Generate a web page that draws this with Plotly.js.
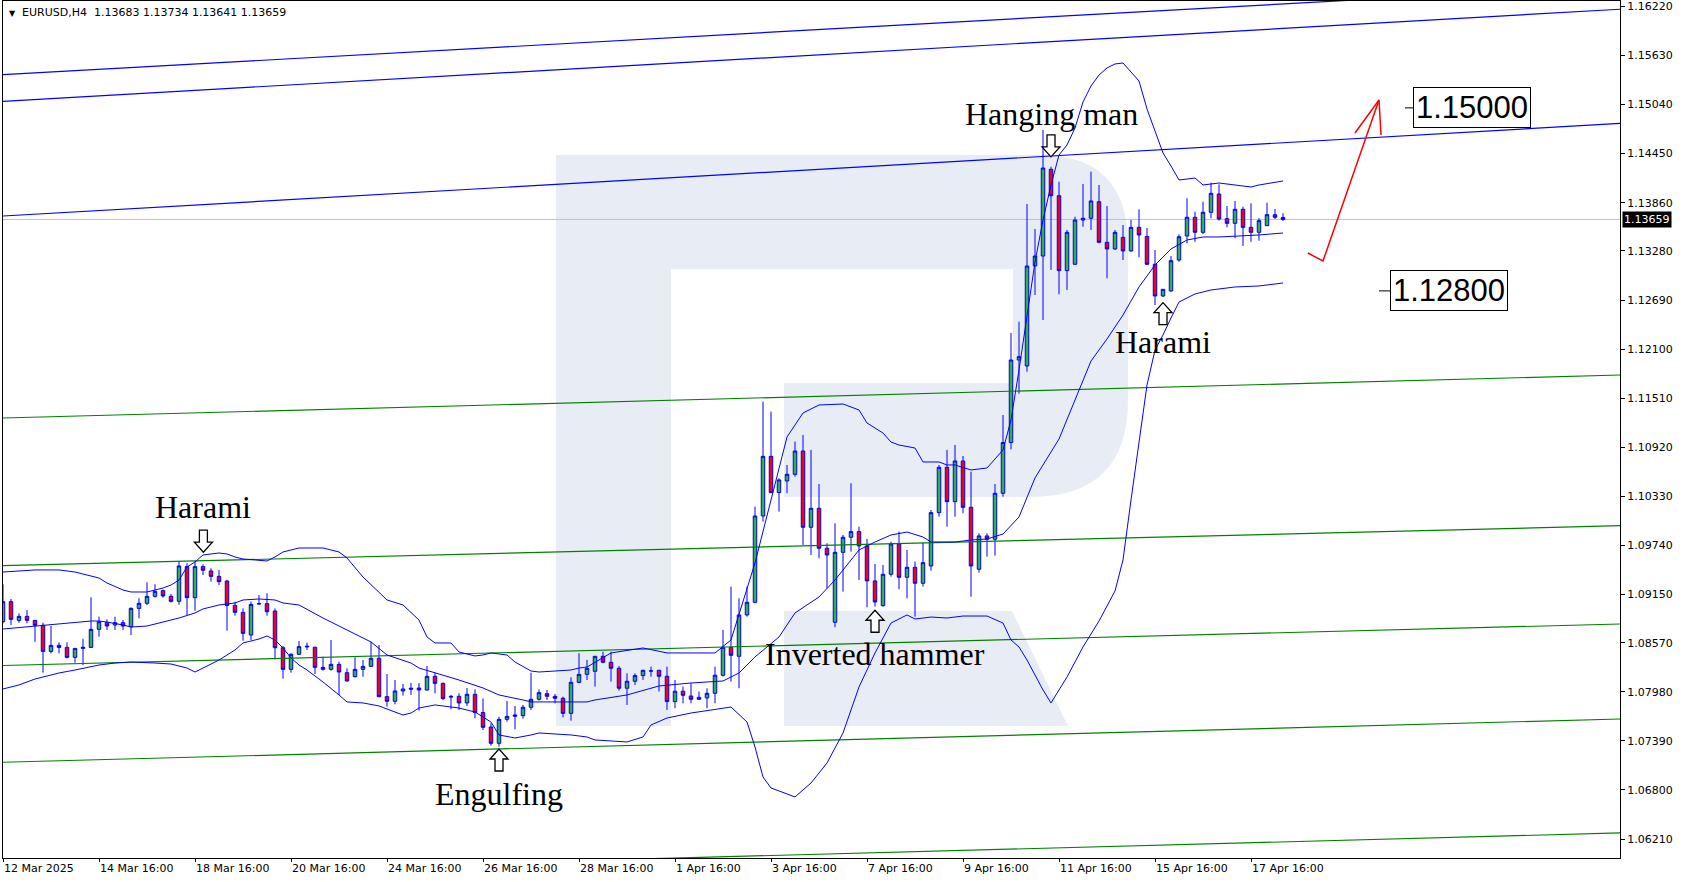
<!DOCTYPE html>
<html><head><meta charset="utf-8">
<script src="https://cdn.plot.ly/plotly-3.0.1.min.js"></script>
<style>html,body{margin:0;padding:0;background:#fff;}#chart{width:1684px;height:882px;}</style>
</head><body><div id="chart"></div>
<script>
// ---- OHLC data, EURUSD H4 (bar 0 = 12 Mar 16:00 ... bar 160 = 18 Apr 08:00)
const openP = [
1.08823,1.09064,1.08839,1.08887,1.08839,1.08779,1.08466,1.08538,1.08514,1.08394,
1.08502,1.08514,1.08731,1.08811,1.08783,1.08811,1.08763,1.08983,1.09044,1.09128,
1.09196,1.09128,1.09068,1.09485,1.09112,1.09485,1.09433,1.09368,1.09312,1.09019,
1.08935,1.08663,1.09035,1.09040,1.08951,1.08510,1.08250,1.08431,1.08519,1.08515,
1.08274,1.08250,1.08310,1.08210,1.08162,1.08250,1.08286,1.08383,1.07922,1.07866,
1.07990,1.08010,1.08026,1.08002,1.08166,1.08082,1.07926,1.07926,1.07846,1.07950,
1.07730,1.07557,1.07361,1.07649,1.07685,1.07693,1.07794,1.07890,1.07958,1.07926,
1.07902,1.07721,1.08094,1.08190,1.08227,1.08407,1.08335,1.08263,1.08023,1.08107,
1.08175,1.08231,1.08239,1.08167,1.07862,1.07987,1.07930,1.07890,1.07906,1.07962,
1.08179,1.08515,1.08407,1.08904,1.09056,1.10094,1.10811,1.10375,1.10515,1.10595,
1.10875,1.09958,1.10186,1.09706,1.08816,1.09657,1.09838,1.09906,1.09734,1.09313,
1.09016,1.09393,1.09758,1.09357,1.09477,1.09285,1.09493,1.10134,1.10679,1.10266,
1.10755,1.10198,1.09453,1.09854,1.09814,1.10367,1.10976,1.11969,1.11897,1.13099,
1.13219,1.14262,1.13944,1.13043,1.13120,1.13652,1.13673,1.13872,1.13384,1.13304,
1.13444,1.13280,1.13564,1.13454,1.13120,1.12739,1.12799,1.13171,1.13460,1.13685,
1.13504,1.13745,1.13965,1.13668,1.13612,1.13781,1.13564,1.13504,1.13584,1.13716,
1.13683];
const highP = [
1.09272,1.09096,1.08923,1.08963,1.08843,1.08811,1.08771,1.08574,1.08574,1.08502,
1.08618,1.09116,1.08883,1.08851,1.08883,1.08843,1.08995,1.09104,1.09296,1.09272,
1.09208,1.09156,1.09545,1.09525,1.09545,1.09513,1.09465,1.09445,1.09324,1.09064,
1.08983,1.09064,1.09144,1.09164,1.08983,1.08530,1.08443,1.08591,1.08571,1.08523,
1.08403,1.08603,1.08342,1.08262,1.08395,1.08363,1.08583,1.08543,1.08194,1.08122,
1.08074,1.08086,1.08086,1.08290,1.08210,1.08090,1.07942,1.07962,1.08026,1.08010,
1.07900,1.07601,1.07681,1.07870,1.07810,1.07822,1.08210,1.08010,1.08002,1.07954,
1.07922,1.08154,1.08443,1.08363,1.08407,1.08463,1.08463,1.08291,1.08203,1.08203,
1.08243,1.08283,1.08243,1.08283,1.08123,1.08043,1.08083,1.07983,1.08023,1.08283,
1.08724,1.09245,1.09104,1.09245,1.10206,1.11469,1.11348,1.10547,1.10707,1.10988,
1.11068,1.10888,1.10479,1.09766,1.10006,1.09866,1.10487,1.09966,1.09818,1.09517,
1.09505,1.09786,1.09906,1.09685,1.09545,1.09774,1.10166,1.10707,1.10888,1.10948,
1.10815,1.10627,1.09886,1.09886,1.10479,1.11308,1.12294,1.12430,1.13845,1.13544,
1.14734,1.14293,1.14113,1.13532,1.13692,1.14085,1.14233,1.14073,1.13820,1.13532,
1.13592,1.13652,1.13781,1.13556,1.13292,1.12819,1.13219,1.13480,1.13913,1.13752,
1.13872,1.14101,1.14081,1.13820,1.13881,1.13812,1.13853,1.13673,1.13860,1.13784,
1.13734];
const lowP = [
1.08803,1.08783,1.08811,1.08803,1.08582,1.08210,1.08442,1.08442,1.08382,1.08330,
1.08302,1.08506,1.08643,1.08723,1.08723,1.08723,1.08663,1.08863,1.09023,1.09112,
1.09112,1.09052,1.09027,1.08903,1.08955,1.09385,1.09304,1.09264,1.08715,1.08895,
1.08594,1.08602,1.09031,1.08895,1.08370,1.08138,1.08210,1.08423,1.08483,1.08194,
1.08234,1.08234,1.07942,1.08102,1.08154,1.08162,1.08282,1.07914,1.07802,1.07830,
1.07934,1.07942,1.07754,1.07994,1.07962,1.07882,1.07770,1.07762,1.07810,1.07661,
1.07521,1.07333,1.07321,1.07621,1.07529,1.07657,1.07762,1.07874,1.07882,1.07842,
1.07673,1.07633,1.08082,1.08122,1.08043,1.08323,1.08103,1.07995,1.07822,1.08063,
1.08123,1.08163,1.07983,1.07762,1.07782,1.07842,1.07842,1.07882,1.07782,1.07842,
1.08163,1.08103,1.08023,1.08884,1.09044,1.10026,1.10367,1.10146,1.10367,1.10567,
1.09746,1.09625,1.09585,1.09225,1.08756,1.09185,1.09665,1.09325,1.08996,1.09004,
1.09004,1.09365,1.09213,1.09104,1.08884,1.09245,1.09437,1.10086,1.09966,1.10086,
1.10126,1.09124,1.09413,1.09605,1.09617,1.10326,1.10895,1.11564,1.11828,1.12751,
1.12450,1.13051,1.12759,1.12811,1.13111,1.13572,1.13532,1.13372,1.12951,1.13292,
1.13171,1.13271,1.13204,1.13111,1.12630,1.12726,1.12790,1.13151,1.13372,1.13391,
1.13484,1.13673,1.13644,1.13564,1.13432,1.13340,1.13391,1.13403,1.13580,1.13664,
1.13641];
const closeP = [
1.09064,1.08851,1.08887,1.08839,1.08779,1.08466,1.08538,1.08514,1.08394,1.08502,
1.08514,1.08731,1.08823,1.08771,1.08811,1.08771,1.08983,1.09044,1.09128,1.09188,
1.09132,1.09068,1.09493,1.09112,1.09485,1.09441,1.09368,1.09304,1.09019,1.08935,
1.08683,1.09031,1.09040,1.08943,1.08510,1.08250,1.08431,1.08523,1.08527,1.08274,
1.08250,1.08310,1.08218,1.08110,1.08250,1.08286,1.08383,1.07922,1.07866,1.07990,
1.08014,1.08022,1.08002,1.08166,1.08082,1.07898,1.07918,1.07846,1.07950,1.07730,
1.07553,1.07361,1.07649,1.07685,1.07701,1.07794,1.07890,1.07970,1.07926,1.07902,
1.07721,1.08094,1.08190,1.08262,1.08407,1.08335,1.08263,1.08023,1.08107,1.08175,
1.08239,1.08231,1.08167,1.07862,1.07987,1.07938,1.07890,1.07914,1.07962,1.08179,
1.08515,1.08419,1.08904,1.09056,1.10094,1.10811,1.10375,1.10527,1.10595,1.10875,
1.09958,1.10186,1.09706,1.09625,1.09657,1.09838,1.09906,1.09734,1.09313,1.09060,
1.09393,1.09758,1.09357,1.09477,1.09285,1.09533,1.10134,1.10679,1.10266,1.10755,
1.10198,1.09493,1.09854,1.09814,1.10367,1.10976,1.11969,1.12009,1.13099,1.13219,
1.14277,1.13944,1.13043,1.13504,1.13652,1.13673,1.13881,1.13384,1.13304,1.13504,
1.13280,1.13564,1.13472,1.13120,1.12739,1.12819,1.13163,1.13451,1.13685,1.13504,
1.13745,1.13973,1.13664,1.13612,1.13781,1.13564,1.13504,1.13644,1.13716,1.13685,
1.13659];
const barIdx = openP.map((_, i) => i);

// ---- Bollinger bands at bar positions
const upperIdx = [0,4,7,9,12,13,15,16,18,20,21,22,23,24,25,27,28,29,30,33,34,35,37,40,42,43,45,47,48,50,52,53,54,56,57,59,60,61,63,64,66,67,69,71,72,73,76,80,83,86,89,91,94,98,100,102,105,107,108,110,111,112,114,115,117,118,119,121,123,125,126,127,128,129,130,131,132,133,134,135,136,137,138,139,140,142,143,144,145,146,147,149,150,152,156,157,160];
const upperVal = [1.09420,1.09445,1.09445,1.09420,1.09348,1.09288,1.09204,1.09180,1.09180,1.09228,1.09264,1.09324,1.09481,1.09541,1.09625,1.09649,1.09637,1.09601,1.09577,1.09553,1.09601,1.09661,1.09709,1.09709,1.09661,1.09589,1.09360,1.09168,1.09084,1.09024,1.08843,1.08639,1.08567,1.08567,1.08459,1.08411,1.08423,1.08447,1.08423,1.08338,1.08230,1.08218,1.08230,1.08242,1.08266,1.08278,1.08447,1.08507,1.08447,1.08447,1.08447,1.08603,1.09529,1.11043,1.11332,1.11428,1.11440,1.11368,1.11212,1.11091,1.10983,1.10947,1.10911,1.10743,1.10743,1.10707,1.10707,1.10647,1.10671,1.10887,1.11248,1.11849,1.12510,1.13147,1.13652,1.14073,1.14434,1.14554,1.14758,1.15071,1.15263,1.15395,1.15480,1.15528,1.15540,1.15323,1.14987,1.14722,1.14458,1.14301,1.14133,1.14157,1.14073,1.14097,1.14049,1.14073,1.14121];
const midIdx = [0,4,8,11,12,13,15,16,18,20,22,24,25,27,29,30,32,34,35,37,40,43,46,48,51,52,55,57,60,62,65,66,69,73,74,78,82,86,90,92,94,97,99,102,104,106,107,109,111,113,115,116,118,119,121,123,125,127,129,132,134,136,138,140,142,144,145,146,148,150,152,157,160];
const midVal = [1.08735,1.08771,1.08807,1.08831,1.08831,1.08819,1.08783,1.08759,1.08771,1.08819,1.08867,1.08928,1.08976,1.09024,1.09048,1.09084,1.09096,1.09084,1.09048,1.09024,1.08867,1.08723,1.08579,1.08423,1.08326,1.08266,1.08182,1.08122,1.08026,1.07942,1.07882,1.07858,1.07858,1.07858,1.07882,1.07942,1.08050,1.08086,1.08110,1.08206,1.08399,1.08639,1.08928,1.09120,1.09324,1.09565,1.09685,1.09781,1.09865,1.09901,1.09841,1.09781,1.09781,1.09781,1.09805,1.09817,1.09877,1.10082,1.10551,1.11019,1.11488,1.11957,1.12222,1.12510,1.12847,1.13111,1.13207,1.13304,1.13412,1.13448,1.13448,1.13472,1.13496];
const lowerIdx = [0,2,4,5,7,9,11,12,14,16,19,21,23,24,25,27,29,30,32,33,34,35,36,37,38,40,42,43,45,47,48,50,51,52,54,55,57,59,61,62,64,66,67,69,71,73,74,78,80,81,83,86,90,91,93,94,95,96,99,101,103,105,107,109,111,113,114,116,118,120,123,125,126,127,128,130,131,133,135,137,139,140,141,142,143,144,145,146,147,149,151,154,157,160];
const lowerVal = [1.08014,1.08062,1.08134,1.08158,1.08206,1.08242,1.08278,1.08302,1.08326,1.08338,1.08326,1.08314,1.08266,1.08218,1.08266,1.08362,1.08483,1.08567,1.08615,1.08651,1.08603,1.08507,1.08387,1.08302,1.08242,1.08098,1.07942,1.07858,1.07846,1.07810,1.07773,1.07701,1.07725,1.07785,1.07822,1.07810,1.07785,1.07737,1.07617,1.07461,1.07425,1.07461,1.07485,1.07473,1.07461,1.07437,1.07401,1.07377,1.07437,1.07581,1.07665,1.07725,1.07785,1.07797,1.07617,1.07317,1.06956,1.06824,1.06716,1.06884,1.07124,1.07485,1.08038,1.08447,1.08807,1.08904,1.08855,1.08879,1.08867,1.08891,1.08891,1.08807,1.08603,1.08519,1.08362,1.08002,1.07846,1.08158,1.08519,1.08831,1.09192,1.09565,1.10286,1.11007,1.11669,1.12089,1.12270,1.12474,1.12666,1.12763,1.12811,1.12847,1.12859,1.12895];

// ---- drawn lines (price at left edge / right edge of the window)
const lineSpan = [0, 202.125];
const blueLineStart = [1.15400, 1.15079, 1.13700];
const blueLineEnd   = [1.16473, 1.16186, 1.14813];
const greenLineStart = [1.11272, 1.09496, 1.08296, 1.07133, 1.05767];
const greenLineEnd   = [1.11789, 1.09977, 1.08795, 1.07653, 1.06283];
const redArrowIdx = [163.1, 165, 172];
const redArrowVal = [1.13255, 1.13159, 1.15095];
const redHeadIdx = [169, 172, 172.25];
const redHeadVal = [1.14698, 1.15095, 1.14674];
const targetLevels = [1.15000, 1.12800];
const targetLabels = ['1.15000', '1.12800'];

// ---- pattern marks: name, bar, text price, arrow price, arrow direction
const patternNames = ['Harami', 'Engulfing', 'Inverted hammer', 'Hanging man', 'Harami'];
const patternBar = [25.05, 62.0, 109.0, 131.0, 145.0];
const patternTextPrice = [1.10199, 1.06749, 1.08432, 1.14929, 1.12183];
const patternArrowPrice = [1.09791, 1.07160, 1.08828, 1.14544, 1.12526];
const patternArrowDir = ['down', 'up', 'up', 'down', 'up'];

// ---- axis labels
const xTickIdx = [0,12,24,36,48,60,72,84,96,108,120,132,144,156];
const xTickLabels = ['12 Mar 2025','14 Mar 16:00','18 Mar 16:00','20 Mar 16:00','24 Mar 16:00','26 Mar 16:00','28 Mar 16:00','1 Apr 16:00','3 Apr 16:00','7 Apr 16:00','9 Apr 16:00','11 Apr 16:00','15 Apr 16:00','17 Apr 16:00'];
const yTickLabels = ['1.16220','1.15630','1.15040','1.14450','1.13860','1.13280','1.12690','1.12100','1.11510','1.10920','1.10330','1.09740','1.09150','1.08570','1.07980','1.07390','1.06800','1.06210'];
const yTickVals = yTickLabels.map(Number);
const lastClose = closeP[closeP.length - 1];
const headerText = 'EURUSD,H4  ' + [openP.at(-1), highP.at(-1), lowP.at(-1), closeP.at(-1)].map(v => v.toFixed(5)).join(' ');

// ---- helpers for pixel placed decorations
const PX = x => (x - 3) / 1617;
const PY = y => (858 - y) / 857;
const P = (x, y) => PX(x) + ',' + PY(y);

const traces = [];
greenLineStart.forEach((s, i) => traces.push({type:'scatter', mode:'lines', x:lineSpan, y:[s, greenLineEnd[i]], line:{color:'#008000', width:1.2}, hoverinfo:'skip'}));
blueLineStart.forEach((s, i) => traces.push({type:'scatter', mode:'lines', x:lineSpan, y:[s, blueLineEnd[i]], line:{color:'#0000ff', width:1.2}, hoverinfo:'skip'}));
[[upperIdx, upperVal], [midIdx, midVal], [lowerIdx, lowerVal]].forEach(([xi, yv]) => traces.push({type:'scatter', mode:'lines', x:xi, y:yv, line:{color:'#0000ff', width:1}, hoverinfo:'skip'}));
traces.push({
  type:'candlestick', x:barIdx, open:openP, high:highP, low:lowP, close:closeP,
  increasing:{line:{color:'#0000ff', width:1}, fillcolor:'#33b533'},
  decreasing:{line:{color:'#0000ff', width:1}, fillcolor:'#ff0000'},
  whiskerwidth:0, hoverinfo:'skip'
});
traces.push({type:'scatter', mode:'lines', x:redArrowIdx, y:redArrowVal, line:{color:'#ff0000', width:1.5}, hoverinfo:'skip'});
traces.push({type:'scatter', mode:'lines', x:redHeadIdx, y:redHeadVal, line:{color:'#ff0000', width:1.5}, hoverinfo:'skip'});

const wm = '#e8edf5';
const shapes = [
  {type:'rect', xref:'paper', yref:'paper', x0:PX(556), x1:PX(671), y0:PY(726), y1:PY(155), fillcolor:wm, line:{width:0}, layer:'below'},
  {type:'path', xref:'paper', yref:'paper', layer:'below', fillcolor:wm, line:{width:0},
   path:`M ${P(671,155)} L ${P(1040,155)} Q ${P(1128,155)} ${P(1128,245)} L ${P(1128,400)} Q ${P(1128,497)} ${P(1030,497)} L ${P(784,497)} L ${P(784,383)} L ${P(1013,383)} L ${P(1013,269)} L ${P(671,269)} Z`},
  {type:'path', xref:'paper', yref:'paper', layer:'below', fillcolor:wm, line:{width:0},
   path:`M ${P(784,611)} L ${P(1012,611)} L ${P(1068,726)} L ${P(784,726)} Z`},
  {type:'line', xref:'paper', yref:'y', x0:0, x1:1, y0:lastClose, y1:lastClose, line:{color:'#c0c0c0', width:1}, layer:'below'},
  {type:'line', xref:'x', yref:'y', x0:175.25, x1:176.25, y0:targetLevels[0], y1:targetLevels[0], line:{color:'#000', width:1}},
  {type:'line', xref:'x', yref:'y', x0:172.0, x1:173.4, y0:targetLevels[1], y1:targetLevels[1], line:{color:'#000', width:1}}
];
// hollow block arrows (pixel-sized, anchored at bar / price)
const downArrow = 'M -4,11 L 4,11 L 4,-1 L 9,-1 L 0,-11 L -9,-1 L -4,-1 Z';
const upArrow   = 'M -4,-11 L 4,-11 L 4,1 L 9,1 L 0,11 L -9,1 L -4,1 Z';
patternBar.forEach((b, i) => shapes.push({
  type:'path', xref:'x', yref:'y', xsizemode:'pixel', ysizemode:'pixel', xanchor:b, yanchor:patternArrowPrice[i],
  path: patternArrowDir[i] === 'down' ? downArrow : upArrow,
  fillcolor:'#ffffff', line:{color:'#000000', width:1.3}, layer:'above'
}));

const serif = {family:'Liberation Serif, Times New Roman, serif', size:32, color:'#000'};
const annotations = patternNames.map((t, i) => ({xref:'x', yref:'y', x:patternBar[i], y:patternTextPrice[i], text:t, showarrow:false, font:serif, xanchor:'center', yanchor:'middle'}));
annotations.push(
  {xref:'x', yref:'y', x:176.25, y:targetLevels[0], text:targetLabels[0], showarrow:false, xanchor:'left', yanchor:'middle',
   font:{family:'Liberation Sans, Arial', size:31, color:'#000'}, bordercolor:'#000', borderwidth:1, borderpad:2, bgcolor:'#fff'},
  {xref:'x', yref:'y', x:173.4, y:targetLevels[1], text:targetLabels[1], showarrow:false, xanchor:'left', yanchor:'middle',
   font:{family:'Liberation Sans, Arial', size:31, color:'#000'}, bordercolor:'#000', borderwidth:1, borderpad:2, bgcolor:'#fff'},
  {xref:'paper', yref:'y', x:PX(1622), y:lastClose, text:lastClose.toFixed(5), showarrow:false, xanchor:'left', yanchor:'middle',
   font:{family:'DejaVu Sans', size:11, color:'#fff'}, bgcolor:'#000', borderpad:1},
  {xref:'paper', yref:'paper', x:PX(6.5), y:PY(13), text:'▼', showarrow:false, xanchor:'left', yanchor:'middle',
   font:{family:'DejaVu Sans', size:8, color:'#000'}},
  {xref:'paper', yref:'paper', x:PX(20), y:PY(12.5), text:headerText, showarrow:false, xanchor:'left', yanchor:'middle',
   font:{family:'DejaVu Sans', size:11, color:'#000'}}
);

const tickFont = {family:'DejaVu Sans', size:11, color:'#000'};
const layout = {
  width:1684, height:882,
  margin:{l:3, r:64, t:1, b:24, pad:0},
  paper_bgcolor:'#fff', plot_bgcolor:'#fff',
  showlegend:false, hovermode:false, dragmode:false,
  boxgap:0.38,
  xaxis:{range:[0, 202.125], showgrid:false, zeroline:false, showline:true, linecolor:'#000', linewidth:1, mirror:true,
         ticks:'outside', ticklen:3, tickcolor:'#000', tickvals:xTickIdx, ticktext:xTickLabels,
         ticklabelposition:'outside right', tickfont:tickFont, rangeslider:{visible:false}, fixedrange:true},
  yaxis:{side:'right', range:[1.05982, 1.16285], showgrid:false, zeroline:false, showline:true, linecolor:'#000', linewidth:1, mirror:true,
         ticks:'outside', ticklen:4, tickcolor:'#000', tickvals:yTickVals, ticktext:yTickLabels, tickfont:tickFont, fixedrange:true},
  shapes, annotations
};
Plotly.newPlot('chart', traces, layout, {staticPlot:true, displayModeBar:false});
</script></body></html>
